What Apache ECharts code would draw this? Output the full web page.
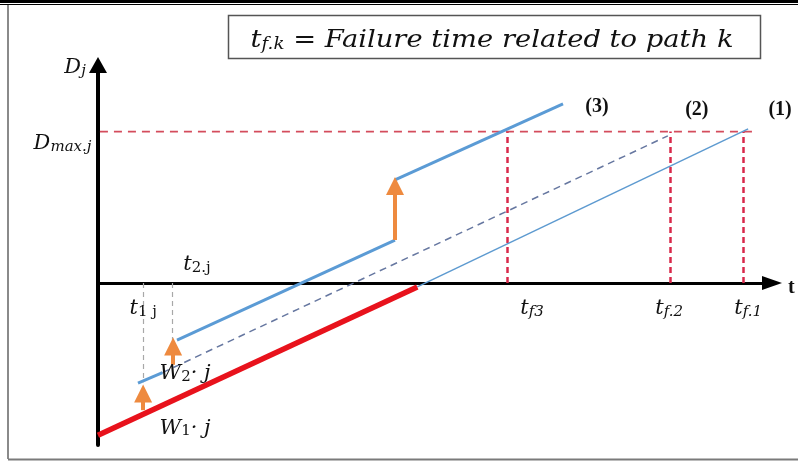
<!DOCTYPE html>
<html>
<head>
<meta charset="utf-8">
<title>Failure time related to path k</title>
<script src="https://cdn.jsdelivr.net/npm/echarts@6/dist/echarts.min.js"></script>
<style>
html, body { margin: 0; padding: 0; background: #fff; }
#main { width: 798px; height: 461px; }
</style>
</head>
<body>
<div id="main"></div>
<script>
// axis ranges: t along x, D_j along y
var tRange = [0, 20.9];
var dRange = [-10.7, 14.4];
var dMax = 10;
// failure times t_f3, t_f2, t_f1
var failTimes = [12.68, 17.74, 20.0];
var dMaxSpan = [0.06, 20.37];

// degradation paths [t, D]
var basePath = [[0, -10.05], [9.9, -0.26]];
var path1 = [[9.9, -0.26], [20.16, 10.18]];
var path2Head = [[1.24, -6.61], [2.0, -5.92]];
var path2 = [[2.0, -5.92], [17.67, 9.72]];
var path3Low = [[2.45, -3.77], [9.21, 2.84]];
var path3High = [[9.21, 6.81], [14.42, 11.83]];

// jumps (orange arrows): [t, D from, D to]
var jumps = [[1.40, -8.4, -7.3], [2.33, -5.4, -4.2], [9.21, 2.84, 6.4]];
// grey guides at t1.j and t2.j: [t, lower D]
var guides = [[1.40, -6.55], [2.29, -3.77]];

// text labels and where they sit [t, D]
var labelTexts = [
  '{m|D}{s|j}',
  '{m|D}{s|max.j}',
  '{m|t}{u|2.j}',
  '{m|t}{u|1 j}',
  '{m|W}{u|2}{m|· j}',
  '{m|W}{u|1}{m|· j}',
  '{m|t}{s|f3}',
  '{m|t}{s|f.2}',
  '{m|t}{s|f.1}',
  '{b|(3)}',
  '{b|(2)}',
  '{b|(1)}',
  '{b|t}'
];
var labelPos = [
  [-0.71, 14.5], [-1.1, 9.5], [3.07, 1.5], [1.40, -1.4], [2.70, -5.7], [2.70, -9.3],
  [13.46, -1.4], [17.71, -1.4], [20.16, -1.4], [15.47, 11.63], [18.57, 11.43], [21.15, 11.43], [21.5, -0.33]
];

var serif = 'DejaVu Serif';
var rich = {
  m: { fontFamily: serif, fontStyle: 'italic', fontSize: 21, color: '#111', lineHeight: 30, verticalAlign: 'bottom' },
  s: { fontFamily: serif, fontStyle: 'italic', fontSize: 15, color: '#111', lineHeight: 16, verticalAlign: 'bottom' },
  u: { fontFamily: serif, fontSize: 15, color: '#111', lineHeight: 16, verticalAlign: 'bottom' },
  b: { fontFamily: 'Liberation Serif', fontWeight: 'bold', fontSize: 20, color: '#111' }
};

function seg(data, color, width, type, z) {
  return {
    type: 'line', data: data, symbol: 'none', silent: true, z: z || 2,
    lineStyle: { color: color, width: width, type: type || 'solid' }
  };
}

var labelData = labelTexts.map(function (txt, i) {
  return { value: labelPos[i], label: { formatter: txt } };
});

var myChart = echarts.init(document.getElementById('main'));

var option = {
  animation: false,
  grid: { left: 98, right: 26, top: 65, bottom: 16 },
  xAxis: {
    type: 'value', min: tRange[0], max: tRange[1],
    axisLine: { onZero: true, symbol: ['none', 'triangle'], symbolSize: [14, 20], lineStyle: { color: '#000', width: 3 } },
    axisTick: { show: false }, axisLabel: { show: false }, splitLine: { show: false }
  },
  yAxis: {
    type: 'value', min: dRange[0], max: dRange[1],
    axisLine: { onZero: true, symbol: ['none', 'triangle'], symbolSize: [18, 16], lineStyle: { color: '#000', width: 4 } },
    axisTick: { show: false }, axisLabel: { show: false }, splitLine: { show: false }
  },
  graphic: [
    { type: 'rect', shape: { x: 0, y: 0, width: 798, height: 3 }, style: { fill: '#000' }, z: 100 },
    { type: 'line', shape: { x1: 0, y1: 4.5, x2: 798, y2: 4.5 }, style: { stroke: '#000', lineWidth: 1 }, z: 100 },
    { type: 'line', shape: { x1: 8, y1: 5, x2: 8, y2: 459 }, style: { stroke: '#8a8a8a', lineWidth: 2 }, z: 100 },
    { type: 'line', shape: { x1: 8, y1: 459.5, x2: 798, y2: 459.5 }, style: { stroke: '#7a7a7a', lineWidth: 2 }, z: 100 },
    { type: 'rect', shape: { x: 228.5, y: 15.5, width: 532, height: 43 }, style: { fill: '#fff', stroke: '#555', lineWidth: 1.5 }, z: 100 },
    {
      type: 'text', x: 492, y: 37, scaleX: 1.14, z: 101,
      style: {
        text: '{m|t}{s|f.k}{m| = Failure time related to path k}',
        align: 'center', verticalAlign: 'middle',
        rich: {
          m: { fontFamily: serif, fontStyle: 'italic', fontSize: 24, fill: '#111', lineHeight: 32, verticalAlign: 'bottom' },
          s: { fontFamily: serif, fontStyle: 'italic', fontSize: 16, fill: '#111', lineHeight: 16, verticalAlign: 'bottom' }
        }
      }
    }
  ],
  series: [
    seg([[dMaxSpan[0], dMax], [dMaxSpan[1], dMax]], '#d44c5c', 1.8, [8, 6], 1),
    {
      type: 'lines', coordinateSystem: 'cartesian2d', silent: true, z: 1,
      lineStyle: { color: '#d8284a', width: 2.5, type: [6, 4], opacity: 1 },
      data: failTimes.map(function (t) { return { coords: [[t, 0], [t, dMax]] }; })
    },
    {
      type: 'lines', coordinateSystem: 'cartesian2d', silent: true, z: 1,
      lineStyle: { color: '#a8a8a8', width: 1.2, type: [5, 4], opacity: 1 },
      data: guides.map(function (g) { return { coords: [[g[0], 0], [g[0], g[1]]] }; })
    },
    seg(basePath, '#e8121c', 5.5, 'solid', 3),
    seg(path1, '#5d9ad0', 1.5),
    seg(path2Head, '#5b9bd5', 3),
    seg(path2, '#6677a0', 1.5, [7, 5]),
    seg(path3Low, '#5b9bd5', 3),
    seg(path3High, '#5b9bd5', 3),
    {
      type: 'lines', coordinateSystem: 'cartesian2d', silent: true, z: 4,
      symbol: ['none', 'triangle'], symbolSize: 18,
      lineStyle: { color: '#ee8a3f', width: 4, opacity: 1 },
      data: jumps.map(function (j) { return { coords: [[j[0], j[1]], [j[0], j[2]]] }; })
    },
    {
      type: 'scatter', symbolSize: 0, clip: false, silent: true, z: 5,
      itemStyle: { opacity: 1 },
      label: { show: true, position: 'inside', rich: rich },
      data: labelData
    }
  ]
};

myChart.setOption(option);
</script>
</body>
</html>
